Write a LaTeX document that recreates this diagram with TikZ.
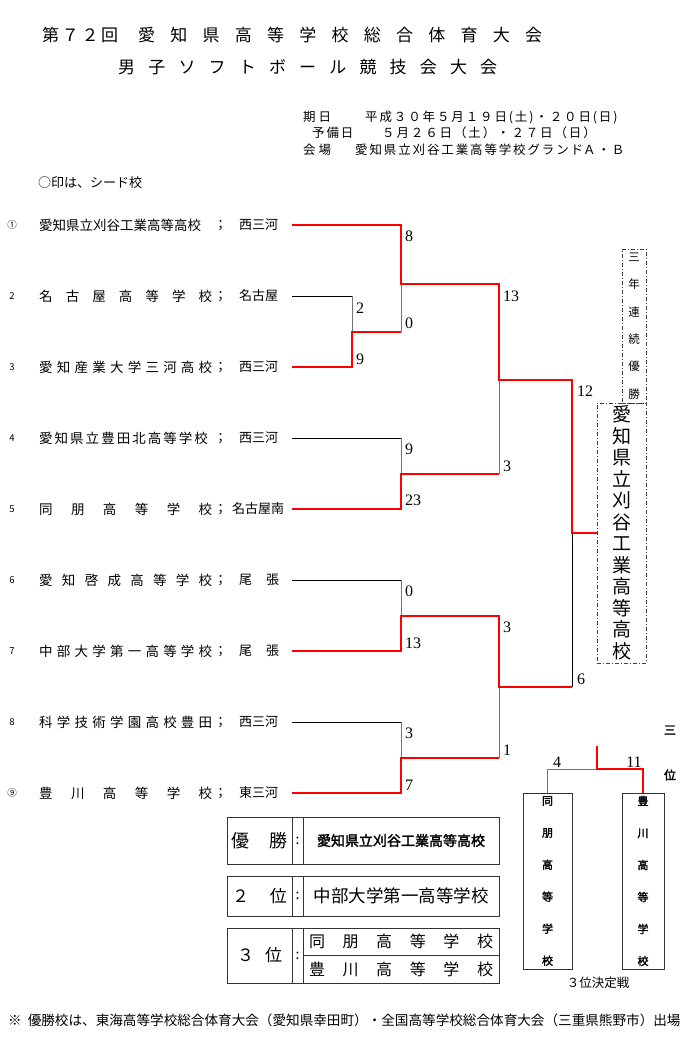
\documentclass[tikz,border=0pt]{standalone}
\usepackage{fontspec}
\setmainfont{Liberation Serif}
\newfontfamily\jp[AutoFakeBold=2]{Noto Sans CJK JP}
\usetikzlibrary{positioning}
\tikzstyle{heading} = [font=\jp\fontsize{17}{17}\selectfont, anchor=west, inner sep=0pt]
\tikzstyle{info} = [font=\jp\fontsize{12.5}{12.5}\selectfont, anchor=west, inner sep=0pt]
\tikzstyle{teamno} = [font=\jp\fontsize{9.5}{9.5}\selectfont, inner sep=0pt]
\tikzstyle{team} = [font=\jp\fontsize{13.5}{13.5}\selectfont, anchor=west, inner sep=0pt]
\tikzstyle{area} = [font=\jp\fontsize{13}{13}\selectfont, anchor=west, inner sep=0pt]
\tikzstyle{score} = [font=\fontsize{16}{16}\selectfont, anchor=west, inner sep=0pt]
\tikzstyle{entry} = [black, line width=0.9pt]
\tikzstyle{lose} = [black!55, line width=0.9pt]
\tikzstyle{win} = [red, line width=2.6pt]
\tikzstyle{dashbox} = [draw=black!75, line width=0.7pt, dash pattern=on 4pt off 2pt on 1pt off 2pt, inner sep=0pt, outer sep=0pt, align=center]
\tikzstyle{cell} = [draw=black!80, line width=0.9pt, inner sep=0pt, outer sep=0pt]
\tikzstyle{bronze} = [cell, font=\jp\bfseries\fontsize{11}{32}\selectfont, align=center, minimum height=176pt]

\begin{document}
\begin{tikzpicture}[x=1pt, y=1pt, node distance=71pt]
    \fill [white] (0,0) rectangle (700,-1041);
    \useasboundingbox (0,0) rectangle (700,-1041);

    % Heading
    \node (title) [heading] at (42,-35) {\makebox[76pt][s]{第 ７ ２ 回}\hspace{20pt}\makebox[404pt][s]{愛 知 県 高 等 学 校 総 合 体 育 大 会}};
    \node (subtitle) [heading] at (118,-67) {\makebox[379pt][s]{男 子 ソ フ ト ボ ー ル 競 技 会 大 会}};
    \node (date) [info] at (303,-117) {\makebox[28pt][s]{期 日}\hspace{34pt}\makebox[240pt][s]{平 成 ３ ０ 年 ５ 月 １ ９ 日 ( 土 ) ・ ２ ０ 日 ( 日 )}};
    \node (spare) [info] at (312,-133) {\makebox[40pt][s]{予 備 日}\hspace{30pt}\makebox[191pt][s]{５ 月 ２ ６ 日 （ 土 ） ・ ２ ７ 日 （ 日 ）}};
    \node (venue) [info] at (303,-150) {\makebox[28pt][s]{会 場}\hspace{24pt}\makebox[207pt][s]{愛 知 県 立 刈 谷 工 業 高 等 学 校 グ ラ ン ド}\hspace{21pt}\makebox[27pt][s]{Ａ ・ Ｂ}};
    \node (seednote) [info, font=\jp\fontsize{13}{13}\selectfont] at (38,-183) {○印は、シード校};

    % Teams
    \node (n1) [teamno] at (12,-225) {①};
    \node (n2) [teamno, below of=n1] {2};
    \node (n3) [teamno, below of=n2] {3};
    \node (n4) [teamno, below of=n3] {4};
    \node (n5) [teamno, below of=n4] {5};
    \node (n6) [teamno, below of=n5] {6};
    \node (n7) [teamno, below of=n6] {7};
    \node (n8) [teamno, below of=n7] {8};
    \node (n9) [teamno, below of=n8] {⑨};
    \coordinate (namex) at (39,0);
    \coordinate (areax) at (214,0);
    \coordinate (linex) at (292,0);
    \node (name1) [team] at (namex |- n1) {愛知県立刈谷工業高等高校};
    \node (name2) [team] at (namex |- n2) {\makebox[173pt][s]{名 古 屋 高 等 学 校}};
    \node (name3) [team] at (namex |- n3) {\makebox[173pt][s]{愛 知 産 業 大 学 三 河 高 校}};
    \node (name4) [team] at (namex |- n4) {\makebox[166pt][s]{愛 知 県 立 豊 田 北 高 等 学 校}};
    \node (name5) [team] at (namex |- n5) {\makebox[173pt][s]{同 朋 高 等 学 校}};
    \node (name6) [team] at (namex |- n6) {\makebox[173pt][s]{愛 知 啓 成 高 等 学 校}};
    \node (name7) [team] at (namex |- n7) {\makebox[173pt][s]{中 部 大 学 第 一 高 等 学 校}};
    \node (name8) [team] at (namex |- n8) {\makebox[173pt][s]{科 学 技 術 学 園 高 校 豊 田}};
    \node (name9) [team] at (namex |- n9) {\makebox[173pt][s]{豊 川 高 等 学 校}};
    \node (area1) [area] at (areax |- n1) {\makebox[25pt][l]{；}西三河};
    \node (area2) [area] at (areax |- n2) {\makebox[25pt][l]{；}名古屋};
    \node (area3) [area] at (areax |- n3) {\makebox[25pt][l]{；}西三河};
    \node (area4) [area] at (areax |- n4) {\makebox[25pt][l]{；}西三河};
    \node (area5) [area] at (areax |- n5) {\makebox[18pt][l]{；}名古屋南};
    \node (area6) [area] at (areax |- n6) {\makebox[25pt][l]{；}\makebox[40pt][s]{尾 張}};
    \node (area7) [area] at (areax |- n7) {\makebox[25pt][l]{；}\makebox[40pt][s]{尾 張}};
    \node (area8) [area] at (areax |- n8) {\makebox[25pt][l]{；}西三河};
    \node (area9) [area] at (areax |- n9) {\makebox[25pt][l]{；}東三河};
    \coordinate (e1) at (linex |- n1);
    \coordinate (e2) at (linex |- n2);
    \coordinate (e3) at (linex |- n3);
    \coordinate (e4) at (linex |- n4);
    \coordinate (e5) at (linex |- n5);
    \coordinate (e6) at (linex |- n6);
    \coordinate (e7) at (linex |- n7);
    \coordinate (e8) at (linex |- n8);
    \coordinate (e9) at (linex |- n9);

    % Matches
    \coordinate (m1) at (352,-332);
    \coordinate (m2) at (401,-284);
    \coordinate (m3) at (401,-474);
    \coordinate (m4) at (499,-380);
    \coordinate (m5) at (401,-616);
    \coordinate (m6) at (401,-758);
    \coordinate (m7) at (499,-687);
    \coordinate (fin) at (572,-533);

    % Champion
    \node (champ) [dashbox, font=\jp\fontsize{19}{21.5}\selectfont, minimum width=49pt, minimum height=260pt] at (621.5,-533) {愛\\知\\県\\立\\刈\\谷\\工\\業\\高\\等\\高\\校};
    \node (streak) [dashbox, font=\jp\fontsize{11.5}{27.4}\selectfont, minimum width=24pt, minimum height=154pt, anchor=south east] at (champ.north east) {三\\年\\連\\続\\優\\勝};

    % Lines
    \draw [entry] (e2) -- (e2 -| m1);
    \draw [lose] (e2 -| m1) -- (m1);
    \draw [lose] (m1 -| m2) -- (m2);
    \draw [entry] (e4) -- (e4 -| m3);
    \draw [lose] (e4 -| m3) -- (m3);
    \draw [lose] (m3 -| m4) -- (m4);
    \draw [entry] (e6) -- (e6 -| m5);
    \draw [lose] (e6 -| m5) -- (m5);
    \draw [entry] (e8) -- (e8 -| m6);
    \draw [lose] (e8 -| m6) -- (m6);
    \draw [lose] (m6 -| m7) -- (m7);
    \draw [entry] (m7 -| fin) -- (fin);
    \draw [win] (e1) -| (m2) -| (m4) -| (fin) -- (champ.west);
    \draw [win] (e3) -| (m1) -- (m1 -| m2);
    \draw [win] (e5) -| (m3) -- (m3 -| m4);
    \draw [win] (e7) -| (m5) -| (m7) -- (m7 -| fin);
    \draw [win] (e9) -| (m6) -- (m6 -| m7);

    % Scores
    \node (sc1a) [score] at (356,-308) {2};
    \node (sc1b) [score] at (356,-359) {9};
    \node (sc2a) [score] at (405,-236) {8};
    \node (sc2b) [score] at (405,-323) {0};
    \node (sc3a) [score] at (405,-449) {9};
    \node (sc3b) [score] at (405,-500) {23};
    \node (sc4a) [score] at (503,-296) {13};
    \node (sc4b) [score] at (503,-466) {3};
    \node (sc5a) [score] at (405,-591) {0};
    \node (sc5b) [score] at (405,-643) {13};
    \node (sc6a) [score] at (405,-733) {3};
    \node (sc6b) [score] at (405,-785) {7};
    \node (sc7a) [score] at (503,-627) {3};
    \node (sc7b) [score] at (503,-750) {1};
    \node (scfa) [score] at (577,-391) {12};
    \node (scfb) [score] at (577,-679) {6};

    % Third place
    \node (bronzeL) [bronze, minimum width=49pt] at (547.5,-881) {同\\朋\\高\\等\\学\\校};
    \node (bronzeR) [bronze, minimum width=42pt] at (643,-881) {豊\\川\\高\\等\\学\\校};
    \coordinate (tp) at (597,-769);
    \coordinate (tptop) at (597,-746);
    \draw [lose] (bronzeL.north) |- (tp);
    \draw [win] (tptop) -- (tp) -| (bronzeR.north);
    \node (sc8a) [score, anchor=center] at (557,-762) {4};
    \node (sc8b) [score, anchor=center] at (634,-762) {11};
    \node (third1) [font=\jp\bfseries\fontsize{12}{12}\selectfont] at (670,-730) {三};
    \node (third2) [font=\jp\bfseries\fontsize{12}{12}\selectfont] at (670,-775) {位};
    \node (bronzecap) [font=\jp\fontsize{12.5}{12.5}\selectfont] at (598,-983) {３位決定戦};

    % Results
    \node (lab1) [cell, minimum width=65pt, minimum height=47pt, font=\jp\fontsize{18}{18}\selectfont] at (259.5,-840.5) {\makebox[56pt][s]{優 勝}};
    \node (col1) [cell, minimum width=11pt, minimum height=47pt, right=0pt of lab1, font=\jp\fontsize{14}{14}\selectfont] {:};
    \node (res1) [cell, minimum width=196pt, minimum height=47pt, right=0pt of col1, font=\jp\bfseries\fontsize{14}{14}\selectfont] {愛知県立刈谷工業高等高校};
    \node (lab2) [cell, minimum width=65pt, minimum height=40pt, font=\jp\fontsize{17}{17}\selectfont] at (259.5,-896) {\makebox[55pt][s]{２ 位}};
    \node (col2) [cell, minimum width=11pt, minimum height=40pt, right=0pt of lab2, font=\jp\fontsize{14}{14}\selectfont] {:};
    \node (res2) [cell, minimum width=196pt, minimum height=40pt, right=0pt of col2, font=\jp\fontsize{17.5}{17.5}\selectfont] {中部大学第一高等学校};
    \node (lab3) [cell, minimum width=65pt, minimum height=55pt, font=\jp\fontsize{17}{17}\selectfont] at (259.5,-955.5) {\makebox[45pt][s]{３ 位}};
    \node (col3) [cell, minimum width=11pt, minimum height=55pt, right=0pt of lab3, font=\jp\fontsize{14}{14}\selectfont] {:};
    \node (res3a) [cell, minimum width=196pt, minimum height=27.5pt, anchor=north west, font=\jp\fontsize{16}{16}\selectfont] at (col3.north east) {\makebox[184pt][s]{同 朋 高 等 学 校}};
    \node (res3b) [cell, minimum width=196pt, minimum height=27.5pt, anchor=north west, font=\jp\fontsize{16}{16}\selectfont] at (res3a.south west) {\makebox[184pt][s]{豊 川 高 等 学 校}};

    % Footnote
    \node (footnote) [info, font=\jp\fontsize{13.6}{13.6}\selectfont] at (8,-1020) {※\hspace{6pt}優勝校は、東海高等学校総合体育大会（愛知県幸田町）・全国高等学校総合体育大会（三重県熊野市）出場};
\end{tikzpicture}
\end{document}
